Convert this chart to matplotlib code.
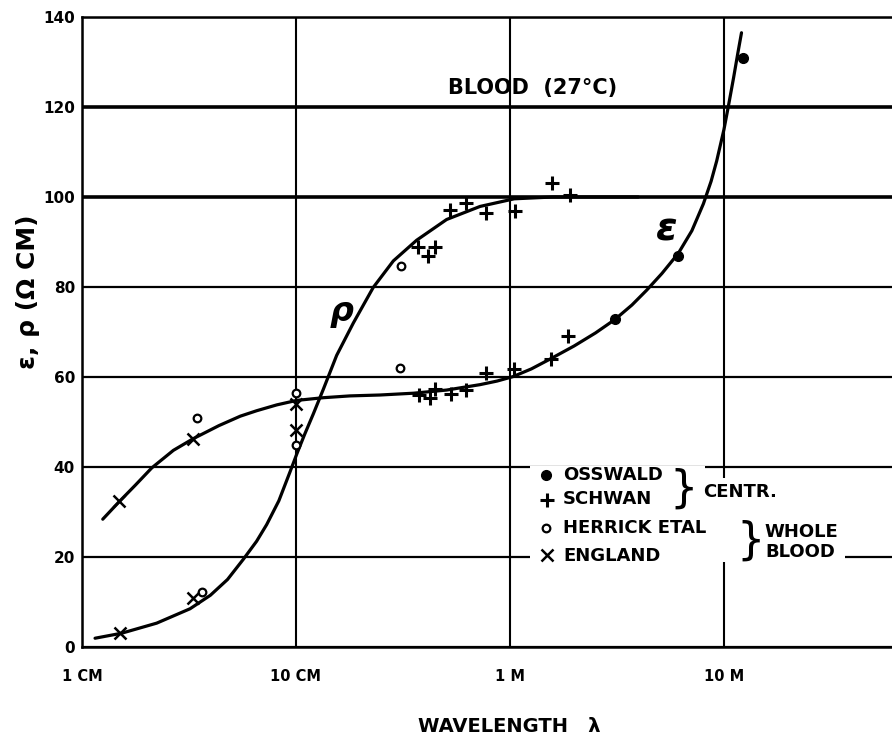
import numpy as np
import matplotlib
matplotlib.use("Agg")
import matplotlib.pyplot as plt
from matplotlib.patches import Rectangle

plt.rcParams['font.family'] = ['DejaVu Sans']

# smooth curves (log10 of wavelength in m, value)
eps_curve_logwl = [-1.903, -1.826, -1.75, -1.674, -1.573, -1.48, -1.36, -1.26,
                   -1.184, -1.09, -0.997, -0.872, -0.748, -0.607, -0.45, -0.296,
                   -0.14, -0.06, 0.015, 0.10, 0.192, 0.30, 0.40, 0.491, 0.57,
                   0.639, 0.71, 0.787, 0.85, 0.904, 0.94, 0.966, 1.00, 1.02,
                   1.045, 1.065, 1.082]
eps_curve_val = [28.4, 32.3, 36.0, 39.8, 43.7, 46.3, 49.2, 51.3,
                 52.5, 53.8, 54.8, 55.4, 55.8, 56.0, 56.4, 57.1,
                 58.3, 59.1, 60.1, 61.8, 64.1, 66.9, 69.8, 72.8, 76.0,
                 79.3, 83.0, 87.5, 92.5, 98.5, 103.5, 108.0, 115.0, 120.0,
                 126.5, 132.0, 136.5]

rho_curve_logwl = [-1.939, -1.815, -1.651, -1.495, -1.40, -1.32, -1.246, -1.184,
                   -1.137, -1.08, -1.028, -0.997, -0.96, -0.919, -0.872, -0.810,
                   -0.732, -0.639, -0.545, -0.436, -0.296, -0.14, 0.02, 0.2, 0.6]
rho_curve_val = [1.95, 3.06, 5.3, 8.5, 11.5, 15.0, 19.5, 23.5,
                 27.2, 32.5, 38.9, 42.8, 47.2, 51.8, 57.3, 64.8,
                 72.0, 79.9, 85.8, 90.4, 95.0, 97.9, 99.6, 100.0, 100.0]

# measured points (wavelength in m, value)
osswald_wl = [3.1, 6.12, 12.3]
osswald_val = [72.8, 87.0, 130.9]

schwan_wl = [0.373, 0.412, 0.447, 0.525, 0.622, 0.773, 1.05, 1.57, 1.90,
             0.377, 0.423, 0.447, 0.53, 0.622, 0.773, 1.04, 1.55, 1.87]
schwan_val = [89.0, 86.9, 89.0, 97.2, 98.7, 96.4, 97.0, 103.1, 100.4,
              56.0, 55.3, 57.3, 56.2, 57.1, 60.9, 61.8, 64.1, 69.1]

herrick_wl = [0.0346, 0.0362, 0.1, 0.1, 0.306, 0.308]
herrick_val = [50.9, 12.2, 56.4, 44.9, 62.0, 84.7]

england_wl = [0.0149, 0.0329, 0.0151, 0.0331, 0.1, 0.1]
england_val = [32.5, 46.2, 3.06, 11.0, 54.0, 48.2]

xticks = [0.01, 0.1, 1, 10]
xticklabels = ["1 CM", "10 CM", "1 M", "10 M"]
yticks = [0, 20, 40, 60, 80, 100, 120, 140]

fig = plt.figure(figsize=(8.92, 7.44), dpi=100)
ax = fig.add_axes([82/892, 1-647/744, 810/892, 630/744])
ax.set_xscale('log')
ax.set_xlim(0.01, 61)
ax.set_ylim(0, 140)

# grid
for y in yticks:
    lw = 2.6 if y in (100, 120) else 1.6
    ax.axhline(y, color='black', lw=lw, zorder=1)
for x in xticks:
    ax.axvline(x, color='black', lw=1.5, zorder=1)

ax.spines['right'].set_visible(False)
for s in ['left', 'bottom', 'top']:
    ax.spines[s].set_linewidth(1.8)

ax.set_xticks(xticks)
ax.set_xticklabels(xticklabels, fontsize=10.5, fontweight='bold')
ax.xaxis.set_minor_locator(matplotlib.ticker.NullLocator())
ax.set_yticks(yticks)
ax.set_yticklabels([str(v) for v in yticks], fontsize=11, fontweight='bold')
ax.tick_params(axis='both', length=0)
ax.tick_params(axis='x', pad=16)
ax.tick_params(axis='y', pad=5)

# curves
ax.plot(10**np.array(eps_curve_logwl), eps_curve_val, color='black', lw=2.3,
        solid_capstyle='round', solid_joinstyle='round', zorder=3)
ax.plot(10**np.array(rho_curve_logwl), rho_curve_val, color='black', lw=2.3,
        solid_capstyle='round', solid_joinstyle='round', zorder=3)

# points
ax.plot(osswald_wl, osswald_val, 'o', color='black', ms=7, zorder=4)
ax.plot(schwan_wl, schwan_val, '+', color='black', ms=10, mew=2.2, zorder=4)
ax.plot(herrick_wl, herrick_val, 'o', mfc='white', mec='black', ms=5.5, mew=1.6, zorder=4)
ax.plot(england_wl, england_val, 'x', color='black', ms=8, mew=1.8, zorder=4)

# labels inside the plot
ax.text(0.556, 0.887, "BLOOD  (27°C)", transform=ax.transAxes, fontsize=15,
        fontweight='bold', ha='center', va='center')
ax.text(0.321, 0.532, "ρ", transform=ax.transAxes, fontsize=24, fontweight='bold',
        fontstyle='italic', ha='center', va='center')
ax.text(0.722, 0.662, "ε", transform=ax.transAxes, fontsize=28, fontweight='bold',
        fontstyle='italic', ha='center', va='center')

# legend block
ax.add_patch(Rectangle((0.553, 0.132), 0.216, 0.155, transform=ax.transAxes,
                       facecolor='white', edgecolor='none', zorder=2))
ax.add_patch(Rectangle((0.769, 0.135), 0.173, 0.133, transform=ax.transAxes,
                       facecolor='white', edgecolor='none', zorder=2))
ax.plot([0.573], [0.273], 'o', color='black', ms=7, transform=ax.transAxes, zorder=5)
ax.plot([0.574], [0.233], '+', color='black', ms=10, mew=2.2, transform=ax.transAxes, zorder=5)
ax.plot([0.573], [0.189], 'o', mfc='white', mec='black', ms=5.5, mew=1.6,
        transform=ax.transAxes, zorder=5)
ax.plot([0.574], [0.146], 'x', color='black', ms=8, mew=1.8, transform=ax.transAxes, zorder=5)
for label, yy in [("OSSWALD", 0.273), ("SCHWAN", 0.235), ("HERRICK ETAL", 0.189),
                  ("ENGLAND", 0.144)]:
    ax.text(0.594, yy, label, transform=ax.transAxes, fontsize=13, fontweight='bold',
            ha='left', va='center', zorder=5)
ax.text(0.743, 0.251, "}", transform=ax.transAxes, fontsize=32, ha='center',
        va='center', zorder=5)
ax.text(0.767, 0.246, "CENTR.", transform=ax.transAxes, fontsize=13, fontweight='bold',
        ha='left', va='center', zorder=5)
ax.text(0.825, 0.168, "}", transform=ax.transAxes, fontsize=32, ha='center',
        va='center', zorder=5)
ax.text(0.843, 0.183, "WHOLE", transform=ax.transAxes, fontsize=13, fontweight='bold',
        ha='left', va='center', zorder=5)
ax.text(0.844, 0.151, "BLOOD", transform=ax.transAxes, fontsize=13, fontweight='bold',
        ha='left', va='center', zorder=5)

# axis titles
fig.text(0.571, 1-727/744, "WAVELENGTH   λ", fontsize=14, fontweight='bold',
         ha='center', va='center')
fig.text(28/892, 1-292/744, "ε, ρ (Ω CM)", fontsize=18, fontweight='bold',
         rotation=90, ha='center', va='center')

fig.savefig("out.png", dpi=100)
